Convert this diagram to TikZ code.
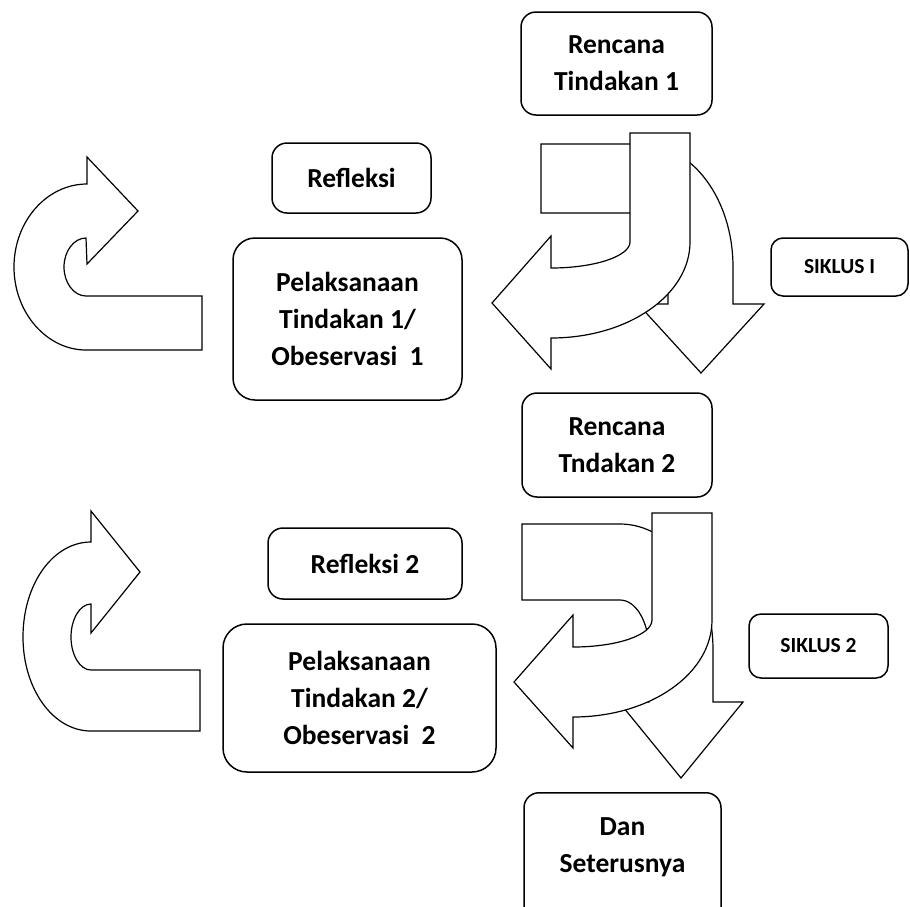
\documentclass[tikz,border=0pt]{standalone}
\usepackage{fontspec}
\setmainfont{Carlito}
\usepackage{tikz}

\tikzset{
  kotak/.style={draw, line width=1.5pt, rounded corners=15pt, fill=white, align=center,
    inner sep=0pt, font=\fontsize{27.5}{37}\selectfont\bfseries},
  kotakkecil/.style={kotak, rounded corners=12pt, font=\fontsize{21.5}{26}\selectfont\bfseries},
  panah/.style={draw, line width=1.2pt, fill=white, line join=miter}
}

\begin{document}
\begin{tikzpicture}[x=1pt, y=-1pt]

  \useasboundingbox (0,0) rectangle (910,906);

  % panah putar kiri, siklus 1
  \path[panah] (202,296) -- (86,296)
    .. controls (74,296) and (64,283) .. (64,267)
    .. controls (64,251) and (74,238) .. (86,238)
    -- (87,264) -- (138,211) -- (87,157) -- (87,184)
    .. controls (47,184) and (14,221) .. (14,267)
    .. controls (14,313) and (47,350) .. (86,350)
    -- (202,350) -- cycle;

  % panah putar kiri, siklus 2
  \path[panah] (200,670) -- (91,670)
    .. controls (80,670) and (71,655) .. (71,637)
    .. controls (71,619) and (80,604) .. (91,604)
    -- (91,633) -- (140,572) -- (91,511) -- (91,542)
    .. controls (53,542) and (23,584) .. (23,637)
    .. controls (23,689) and (53,731) .. (91,731)
    -- (200,731) -- cycle;

  % panah kanan, siklus 1 (belakang lalu depan)
  \path[panah] (541,144) -- (641,144)
    .. controls (692,144) and (733,199) .. (733,267)
    -- (733,304) -- (764,304) -- (701,373) -- (638,304) -- (668,304) -- (668,267)
    .. controls (668,237) and (656,213) .. (641,213)
    -- (541,213) -- cycle;
  \path[panah] (630,133) -- (690,133) -- (690,242)
    .. controls (690,295) and (628,338) .. (551,338)
    -- (551,369) -- (492,303) -- (551,236) -- (551,268)
    .. controls (595,268) and (630,256) .. (630,242)
    -- cycle;

  % panah kanan, siklus 2
  \path[panah] (522,524) -- (620,524)
    .. controls (671,524) and (713,580) .. (713,650)
    -- (713,702) -- (743,702) -- (681,778) -- (619,702) -- (649,702) -- (649,650)
    .. controls (649,622) and (636,600) .. (620,600)
    -- (522,600) -- cycle;
  \path[panah] (652,513) -- (712,513) -- (712,620)
    .. controls (712,674) and (650,717) .. (573,717)
    -- (573,748) -- (514,682) -- (573,615) -- (573,647)
    .. controls (617,647) and (652,635) .. (652,620)
    -- cycle;

  % kotak
  \node[kotak, minimum width=191pt, minimum height=103pt] (rencana1) at (616.5,63.5) {Rencana\\Tindakan 1};
  \node[kotak, minimum width=159pt, minimum height=70pt] (refleksi1) at (351.5,178) {Refleksi};
  \node[kotak, minimum width=229pt, minimum height=162pt, rounded corners=22pt] (pelaksanaan1) at (347.5,319) {Pelaksanaan\\Tindakan 1/\\Obeservasi\ \ 1};
  \node[kotakkecil, minimum width=137pt, minimum height=58pt] (siklus1) at (839.5,267) {SIKLUS I};

  \node[kotak, minimum width=190pt, minimum height=104pt] (rencana2) at (617,445) {Rencana\\Tndakan 2};
  \node[kotak, minimum width=194pt, minimum height=71pt] (refleksi2) at (365,563.5) {Refleksi 2};
  \node[kotak, minimum width=273pt, minimum height=148pt, rounded corners=24pt] (pelaksanaan2) at (359.5,698) {Pelaksanaan\\Tindakan 2/\\Obeservasi\ \ 2};
  \node[kotakkecil, minimum width=139pt, minimum height=64pt] (siklus2) at (818.5,646) {SIKLUS 2};

  \node[kotak, minimum width=197pt, minimum height=145pt, anchor=north] (lanjut) at (622.5,792) {};
  \node[align=center, inner sep=0pt, font=\fontsize{27.5}{37}\selectfont\bfseries] (lanjutteks) at (622.5,847) {Dan\\Seterusnya};

\end{tikzpicture}
\end{document}
